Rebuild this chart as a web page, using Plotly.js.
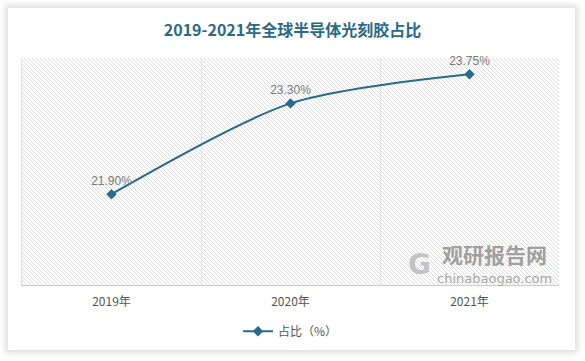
<!DOCTYPE html>
<html>
<head>
<meta charset="utf-8">
<script src="https://cdn.plot.ly/plotly-3.0.1.min.js"></script>
<style>
  html, body { margin:0; padding:0; background:#ffffff; width:585px; height:361px; overflow:hidden; }
  #card { position:absolute; left:8px; top:8px; width:567px; height:342px; background:#fff;
          box-shadow: 0 0 6px 3px rgba(0,0,0,0.13); }
  #hatch { position:absolute; background: repeating-linear-gradient(45deg, #dcdcdc 0px, #dcdcdc 0.9px, rgba(255,255,255,0) 0.9px, rgba(255,255,255,0) 2.83px); }
  #chart { position:absolute; left:0; top:0; width:585px; height:361px; }
</style>
</head>
<body>
<div id="card"></div>
<div id="hatch"></div>
<div id="chart"></div>
<script>
const categories = ['2019年', '2020年', '2021年'];
const shareValues = [21.90, 23.30, 23.75];
const valueLabels = ['21.90%', '23.30%', '23.75%'];
const seriesName = '占比（%）';
const titleText = '2019-2021年全球半导体光刻胶占比';

const lineColor = '#2a6a8c';

const trace = {
  x: categories,
  y: shareValues,
  type: 'scatter',
  mode: 'lines+markers+text',
  name: seriesName,
  text: valueLabels,
  textposition: 'top center',
  textfont: { family: 'Liberation Sans, Arial, sans-serif', size: 12, color: '#7a7a7a' },
  line: { color: lineColor, width: 2, shape: 'spline', smoothing: 0.8 },
  marker: { symbol: 'diamond', size: 8, color: lineColor },
  cliponaxis: false
};

const layout = {
  width: 585, height: 361,
  margin: { l: 22, r: 26, t: 58, b: 76 },
  paper_bgcolor: 'rgba(0,0,0,0)',
  plot_bgcolor: 'rgba(0,0,0,0)',
  title: {
    text: '<b>' + titleText + '</b>',
    x: 0.5, xanchor: 'center', y: 0.915, yanchor: 'middle',
    font: { family: 'Noto Sans CJK SC, sans-serif', size: 16, color: '#2b6a89' }
  },
  xaxis: {
    type: 'category',
    range: [-0.5, 2.5],
    autorange: false,
    tickson: 'boundaries',
    showgrid: true, gridcolor: '#e4e4e4', gridwidth: 1,
    showline: true, linecolor: '#cccccc', linewidth: 1,
    ticks: '', ticklen: 0,
    ticklabelstandoff: 6,
    tickfont: { family: 'Noto Sans CJK SC, sans-serif', size: 12, color: '#555555' },
    fixedrange: true,
    zeroline: false
  },
  yaxis: {
    range: [20.5, 24],
    autorange: false,
    tickvals: [24],
    showticklabels: false,
    showgrid: true, gridcolor: '#bbbbbb', griddash: 'dot', gridwidth: 1,
    zeroline: false,
    showline: true, linecolor: '#e0e0e0', linewidth: 1,
    ticks: ''
  },
  showlegend: true,
  legend: {
    orientation: 'h', x: 0.5, xanchor: 'center', y: -0.14, yanchor: 'top',
    font: { family: 'Noto Sans CJK SC, sans-serif', size: 12, color: '#555555' },
    bgcolor: 'rgba(0,0,0,0)'
  },
  annotations: [
    { xref: 'paper', yref: 'paper', x: 0.88, y: 0.135, xanchor: 'center', yanchor: 'middle',
      text: '<b>观研报告网</b>', showarrow: false,
      font: { family: 'Noto Sans CJK SC, sans-serif', size: 21, color: '#a0a0a0' } },
    { xref: 'paper', yref: 'paper', x: 0.88, y: 0.03, xanchor: 'center', yanchor: 'middle',
      text: 'chinabaogao.com', showarrow: false,
      font: { family: 'DejaVu Sans, sans-serif', size: 13, color: '#a8a8a8' } },
    { xref: 'paper', yref: 'paper', x: 0.74, y: 0.09, xanchor: 'center', yanchor: 'middle',
      text: '<b>G</b>', showarrow: false,
      font: { family: 'DejaVu Sans, sans-serif', size: 28, color: '#c4c4c4' } }
  ]
};

Plotly.newPlot('chart', [trace], layout, { displayModeBar: false, staticPlot: true }).then(function (gd) {
  const s = gd._fullLayout._size;
  const h = document.getElementById('hatch');
  h.style.left = s.l + 'px';
  h.style.top = s.t + 'px';
  h.style.width = s.w + 'px';
  h.style.height = s.h + 'px';
});
</script>
</body>
</html>
